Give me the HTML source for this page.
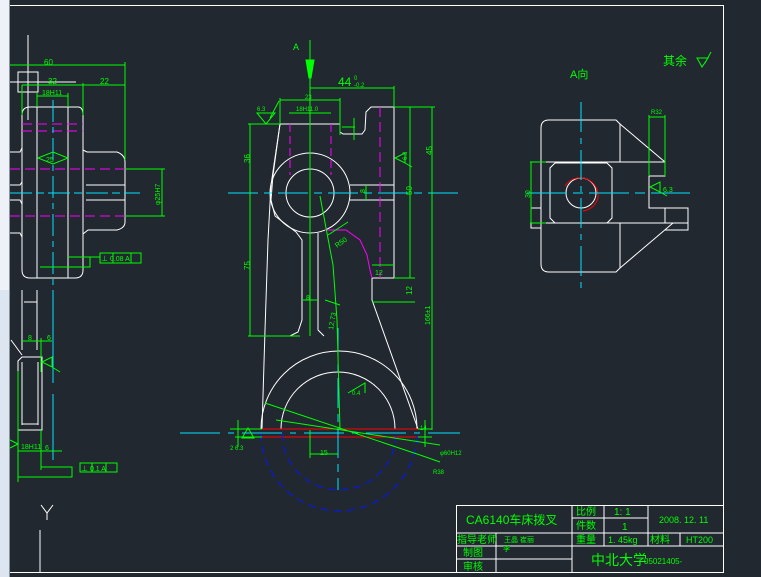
<!DOCTYPE html>
<html><head><meta charset="utf-8"><style>
html,body{margin:0;padding:0;background:#212830;}
svg{display:block;}
text{font-family:"Liberation Sans","Noto Sans CJK SC",sans-serif;fill:#00ff00;}
</style></head><body>
<svg width="761" height="577" viewBox="0 0 761 577" xmlns="http://www.w3.org/2000/svg">
<rect width="761" height="577" fill="#212830"/>
<rect x="0" y="0" width="9" height="290" fill="#eef2f8"/>
<rect x="0" y="290" width="9" height="287" fill="#dde6f0"/>
<line x1="9.5" y1="0" x2="9.5" y2="577" stroke="#8a94a0"/>
<!-- frame -->
<g stroke="#fff" stroke-width="1" fill="none">
<line x1="10" y1="5.5" x2="723" y2="5.5"/>
<line x1="723.5" y1="5" x2="723.5" y2="572"/>
<line x1="10" y1="572.5" x2="723" y2="572.5"/>
</g>

<!-- LEFT VIEW -->
<g fill="none" stroke="#fff">
<line x1="28" y1="35" x2="28" y2="120"/>
<rect x="18" y="72" width="20" height="20"/>
<line x1="10" y1="82" x2="76" y2="82"/>
<path d="M22 115 Q22 107 30 107 L78 107 Q83 107 83 115 L83 270 Q83 278 75 278 L30 278 Q22 278 22 270 Z"/>
<line x1="37" y1="107" x2="37" y2="278"/>
<line x1="68" y1="107" x2="68" y2="278"/>
<path d="M83 150 L87 152 L117 152 Q125 155 125 162 L125 222 Q125 228 117 230 L88 230 L83 234"/>
<line x1="86" y1="185" x2="125" y2="185"/><line x1="86" y1="200" x2="125" y2="200"/>
<path d="M10 152 L20 152 L22 148"/><path d="M10 185 L20 185 L22 182"/><path d="M10 200 L20 200 L22 204"/><path d="M10 233 L20 233 L22 237"/>
<line x1="22" y1="290" x2="22" y2="350"/><line x1="37" y1="290" x2="37" y2="350"/>
<line x1="24" y1="302" x2="37" y2="302"/>
<line x1="11" y1="340" x2="22" y2="355"/>
<path d="M18 361 L22 357 L42 357 L42 430 L18 430 Z"/>
<line x1="22" y1="362" x2="22" y2="425"/><line x1="38" y1="362" x2="38" y2="425"/>
<line x1="22" y1="424" x2="38" y2="424"/>
<path d="M41 505 L47 513 L53 505 M47 513 L47 520"/>
<line x1="40" y1="530" x2="40" y2="572"/>
</g>
<g stroke="#ff00ff" stroke-dasharray="10,5" fill="none">
<line x1="22" y1="124" x2="83" y2="124"/><line x1="22" y1="131" x2="83" y2="131"/>
<line x1="10" y1="169" x2="125" y2="169"/><line x1="10" y1="216" x2="125" y2="216"/>
</g>
<g stroke="#00e5ff" fill="none">
<line x1="10" y1="193" x2="140" y2="193" stroke-dasharray="22,4,8,4"/>
<line x1="53" y1="100" x2="53" y2="300" stroke-dasharray="22,5,6,5"/>
<line x1="53" y1="297" x2="53" y2="383"/><line x1="53" y1="394" x2="53" y2="460"/>
</g>
<g stroke="#00ff00" fill="none">
<line x1="10" y1="65" x2="125" y2="65"/><line x1="125" y1="62" x2="125" y2="160"/>
<line x1="22" y1="85" x2="125" y2="85"/><line x1="22" y1="85" x2="22" y2="115"/><line x1="83" y1="83" x2="83" y2="115"/>
<line x1="37" y1="96" x2="68" y2="96"/><line x1="37" y1="93" x2="37" y2="107"/><line x1="68" y1="93" x2="68" y2="107"/>
<path d="M38 158 L53 152 L68 158 L53 164 Z"/>
<line x1="125" y1="169" x2="165" y2="169"/><line x1="125" y1="216" x2="165" y2="216"/><line x1="162" y1="169" x2="162" y2="216"/>
<path d="M68 257 L90 257 L90 267 L40 267 M90 257 L100 257"/>
<rect x="100" y="253" width="41" height="10"/><line x1="113" y1="253" x2="113" y2="263"/><line x1="131" y1="253" x2="131" y2="263"/>
<line x1="22" y1="341" x2="52" y2="341"/><line x1="41" y1="338" x2="41" y2="372"/>
<path d="M42 362 L52 357 L52 367 Z M52 367 L60 372"/>
<line x1="18" y1="371" x2="18" y2="482"/>
<path d="M10 448 L18 444 L10 440"/>
<line x1="18" y1="451" x2="62" y2="451"/><line x1="41" y1="430" x2="41" y2="470"/>
<path d="M41 467 L72 467 L72 477 L18 477"/>
<rect x="80" y="463" width="37" height="9"/><line x1="92" y1="463" x2="92" y2="472"/><line x1="106" y1="463" x2="106" y2="472"/>
</g>
<g font-size="8">
<text x="44" y="65">60</text><text x="48" y="84">32</text><text x="100" y="84">22</text>
<text x="42" y="95" font-size="7">18H11</text><text x="46" y="162" font-size="7">25</text>
<text x="101" y="261" font-size="7">⊥ 0.08 A</text>
<text x="28" y="340" font-size="7">8</text><text x="47" y="340" font-size="7">6</text>
<text x="21" y="449" font-size="7">18H11</text><text x="45" y="450" font-size="7">6</text>
<text x="81" y="471" font-size="7">⊥ 0.1 A</text>
<text transform="translate(160,205) rotate(-90)" font-size="7">φ25H7</text>
</g>

<!-- MAIN VIEW -->
<g fill="none" stroke="#fff">
<circle cx="310" cy="193" r="40"/><circle cx="310" cy="193" r="24"/>
<path d="M280 124 L340 124 L340 132 L343 134 L362 134 L365 130 L366 112 L371 107 L394 107 L394 278 L372 278 L372 300 L418 429"/>
<path d="M350 185 L394 185 M350 200 L394 200"/>
<path d="M280 124 L273 175 L271 200 L275 216 L296 232 L302 240 L302 320 L298 332 L290 336 L266 336"/>
<path d="M318 233 L318 330 L324 336"/>
<path d="M280 124 L271 185 L268 240 L265 330 L262 429"/>
<path d="M261 429 A78 78 0 0 1 417 429"/>
<path d="M281 429 A57 57 0 0 1 395 429"/>
<line x1="261" y1="429" x2="281" y2="429"/><line x1="395" y1="429" x2="417" y2="429"/>
</g>
<g stroke="#ff00ff" fill="none">
<line x1="290" y1="124" x2="290" y2="175" stroke-dasharray="8,4"/><line x1="331" y1="124" x2="331" y2="175" stroke-dasharray="8,4"/>
<line x1="380" y1="107" x2="380" y2="278" stroke-dasharray="10,5"/>
<path d="M325 230 L346 230 L360 240 L367 255 L370 270 L372 278"/>
</g>
<g stroke="#ff0000"><line x1="260" y1="429" x2="418" y2="429"/><line x1="260" y1="437" x2="418" y2="437"/></g>
<g stroke="#0018ff" fill="none" stroke-dasharray="8,5">
<path d="M261 433 A78 78 0 0 0 417 433"/>
<path d="M282 433 A57 57 0 0 0 396 433"/>
</g>
<g stroke="#00e5ff" fill="none">
<line x1="228" y1="193" x2="460" y2="193" stroke-dasharray="30,6,8,6"/>
<line x1="180" y1="433" x2="460" y2="433" stroke-dasharray="40,8,6,8"/>
<line x1="338" y1="328" x2="338" y2="490" stroke-dasharray="30,6,8,6"/>
</g>
<g stroke="#00ff00" fill="none">
<line x1="310" y1="40" x2="310" y2="336"/>
<path d="M306 60 L314 60 L311 78 L309 78 Z" fill="#00ff00"/>
<line x1="310" y1="88" x2="394" y2="88"/><line x1="394" y1="86" x2="394" y2="107"/>
<line x1="280" y1="100" x2="340" y2="100"/><line x1="280" y1="98" x2="280" y2="124"/><line x1="340" y1="98" x2="340" y2="135"/>
<line x1="289" y1="113" x2="331" y2="113"/>
<line x1="248" y1="124" x2="280" y2="124"/>
<path d="M257 113 L266 124 L275 113 Z M257 113 L275 113 M270 118 L279 101"/>
<line x1="250" y1="124" x2="250" y2="336"/><line x1="248" y1="336" x2="300" y2="336"/>
<line x1="342" y1="127" x2="355" y2="127"/><line x1="354" y1="118" x2="354" y2="140"/>
<line x1="394" y1="107" x2="435" y2="107"/>
<line x1="410" y1="107" x2="410" y2="278"/>
<line x1="432" y1="107" x2="432" y2="430"/>
<path d="M395 158 L405 153 L405 163 Z M405 163 L412 167"/>
<line x1="366" y1="185" x2="366" y2="200"/>
<line x1="372" y1="265" x2="394" y2="265"/>
<line x1="394" y1="278" x2="415" y2="278"/><line x1="372" y1="302" x2="415" y2="302"/>
<path d="M320 196 L333 265 L337 320 L340 430"/>
<line x1="302" y1="300" x2="318" y2="300"/>
<path d="M328 235 L348 222"/>
<line x1="325" y1="300" x2="340" y2="305"/>
<line x1="265" y1="403" x2="420" y2="455"/>
<line x1="276" y1="420" x2="440" y2="445"/>
<line x1="420" y1="455" x2="440" y2="462"/>
<path d="M348 393 L365 383 L365 393"/>
<line x1="310" y1="454" x2="338" y2="454"/><line x1="310" y1="430" x2="310" y2="458"/>
<line x1="230" y1="429" x2="262" y2="429"/><line x1="235" y1="437" x2="262" y2="437"/><line x1="238" y1="420" x2="238" y2="447"/>
<path d="M242 438 L248 428 L254 438 Z"/>
<line x1="418" y1="429" x2="432" y2="429"/><line x1="418" y1="437" x2="432" y2="437"/><line x1="425" y1="420" x2="425" y2="447"/>
</g>
<g font-size="9">
<text x="293" y="50">A</text>
<text x="338" y="86" font-size="12">44</text><text x="354" y="80" font-size="6">0</text><text x="354" y="87" font-size="6">-0.2</text>
<text x="305" y="99" font-size="6">23</text><text x="296" y="111" font-size="6">18H11.0</text>
<text x="257" y="111" font-size="6">6.3</text>
<text transform="translate(250,163) rotate(-90)" font-size="8">36</text>
<text transform="translate(250,270) rotate(-90)" font-size="8">75</text>
<text transform="translate(432,155) rotate(-90)" font-size="8">45</text>
<text transform="translate(412,195) rotate(-90)" font-size="8">50</text>
<text transform="translate(412,295) rotate(-90)" font-size="8">12</text>
<text transform="translate(430,325) rotate(-90)" font-size="7">166±1</text>
<text transform="translate(365,193) rotate(-90)" font-size="7">8</text>
<text x="375" y="275" font-size="7">12</text>
<text x="306" y="300" font-size="7">8</text>
<text transform="translate(333,330) rotate(-80)" font-size="7">12.73</text>
<text transform="translate(337,248) rotate(-35)" font-size="7">R50</text>
<text transform="translate(407,160) rotate(-90)" font-size="6">6.3</text>
<text x="320" y="455" font-size="7">15</text>
<text x="230" y="450" font-size="6">2  6.3</text>
<text x="420" y="430" font-size="6">14</text>
<text x="440" y="455" font-size="6">φ60H12</text><text x="433" y="474" font-size="6">R38</text>
<text x="352" y="395" font-size="6">0.4</text>
</g>

<!-- A VIEW -->
<g fill="none" stroke="#fff">
<path d="M541 128 Q541 120 549 120 L616 120 L620 124 L620 162"/>
<line x1="620" y1="124" x2="665" y2="162"/>
<path d="M541 128 L541 264 Q541 272 549 272 L616 272 L620 268 L620 223"/>
<line x1="620" y1="268" x2="673" y2="223"/>
<line x1="541" y1="162" x2="665" y2="162"/><line x1="541" y1="223" x2="688" y2="223"/>
<path d="M555 163 L607 163 L612 168 L612 218 L607 223 L555 223 L550 218 L550 168 Z"/>
<path d="M649 176 L665 176 L665 162"/>
<path d="M649 176 L649 208 L688 208 L688 230 L665 230"/>
<line x1="665" y1="208" x2="665" y2="223"/>
<rect x="531" y="208" width="10" height="20"/>
<circle cx="581" cy="193" r="15"/>
</g>
<path d="M565 186 A18 18 0 0 1 598 198 A18 18 0 0 1 583 211" stroke="#ff0000" fill="none"/>
<g stroke="#00e5ff" fill="none">
<line x1="581" y1="102" x2="581" y2="290" stroke-dasharray="30,6,6,6"/>
<line x1="527" y1="193" x2="690" y2="193" stroke-dasharray="40,6,10,6"/>
</g>
<g stroke="#00ff00" fill="none">
<line x1="530" y1="162" x2="546" y2="162"/><line x1="530" y1="223" x2="546" y2="223"/><line x1="531" y1="162" x2="531" y2="223"/>
<line x1="649" y1="115" x2="649" y2="176"/><line x1="665" y1="115" x2="665" y2="176"/><line x1="649" y1="117" x2="665" y2="117"/>
<path d="M650 187 L660 182 L660 192 Z M660 192 L667 196"/>
<path d="M697 58 L708 58 L702 67 Z M705 63 L711 52"/>
</g>
<g>
<text x="570" y="78" font-size="11">A向</text>
<text x="663" y="65" font-size="12">其余</text>
<text x="651" y="114" font-size="6">R32</text>
<text transform="translate(530,198) rotate(-90)" font-size="7">30</text>
<text x="663" y="192" font-size="7">6.3</text>
</g>

<!-- TITLE BLOCK -->
<g stroke="#fff" fill="none">
<rect x="456.5" y="505.5" width="267" height="67"/>
<line x1="456" y1="533" x2="723" y2="533"/>
<line x1="456" y1="546" x2="723" y2="546"/>
<line x1="456" y1="559" x2="572" y2="559"/>
<line x1="572" y1="518" x2="648" y2="518"/>
<line x1="572" y1="505" x2="572" y2="572"/>
<line x1="604" y1="505" x2="604" y2="546"/>
<line x1="648" y1="505" x2="648" y2="546"/>
<line x1="680" y1="533" x2="680" y2="546"/>
<line x1="496" y1="533" x2="496" y2="572"/>
</g>
<g font-size="10">
<text x="466" y="524" font-size="12">CA6140车床拨叉</text>
<text x="576" y="515">比例</text><text x="614" y="515">1:  1</text>
<text x="576" y="529">件数</text><text x="622" y="530">1</text>
<text x="659" y="523" font-size="9">2008. 12. 11</text>
<text x="457" y="543">指导老师</text><text x="504" y="542" font-size="7">王晶  崔丽</text>
<text x="576" y="543">重量</text><text x="608" y="543" font-size="9">1. 45kg</text>
<text x="650" y="543">材料</text><text x="686" y="543" font-size="9">HT200</text>
<text x="463" y="556">制图</text><text x="503" y="551" font-size="7">李</text>
<text x="463" y="570">审核</text>
<text x="591" y="565" font-size="14">中北大学</text><text x="644" y="564" font-size="8">05021405-</text>
</g>
</svg>
</body></html>
